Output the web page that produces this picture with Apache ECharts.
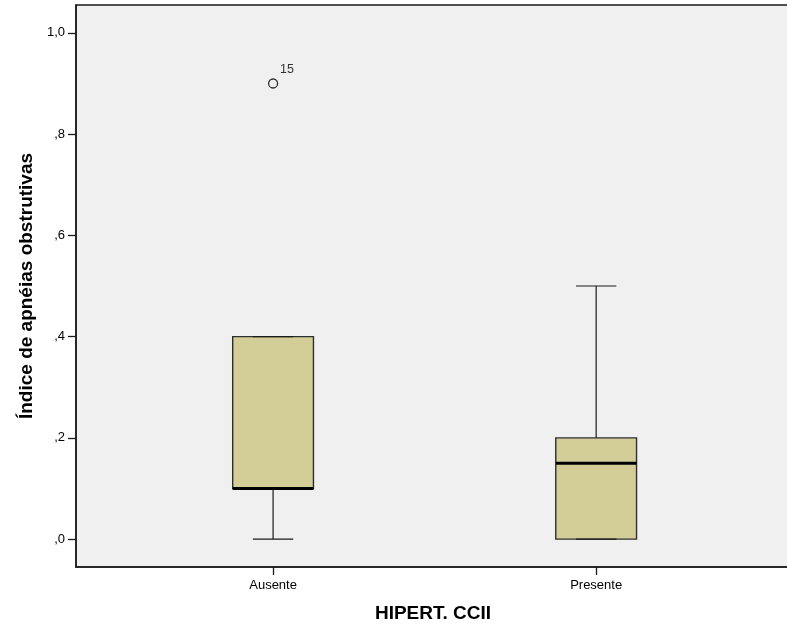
<!DOCTYPE html>
<html>
<head>
<meta charset="utf-8">
<script src="https://cdn.jsdelivr.net/npm/echarts@6/dist/echarts.min.js"></script>
<style>
  html, body { margin: 0; padding: 0; background: #ffffff; }
  #chart { width: 787px; height: 630px; }
</style>
</head>
<body>
<div id="chart"></div>
<script>
// Box-plot summary per group
const categories = ['Ausente', 'Presente'];
const whiskerLow = [0.0, 0.0];
const quartile1 = [0.1, 0.0];
const medians = [0.1, 0.15];
const quartile3 = [0.4, 0.2];
const whiskerHigh = [0.4, 0.5];

// Outliers: group index, value and case number
const outlierGroup = [0];
const outlierValue = [0.9];
const outlierCase = ['15'];

// Value-axis ticks and their labels (decimal comma)
const yTicks = [0, 0.2, 0.4, 0.6, 0.8, 1.0];
const yTickLabels = [',0', ',2', ',4', ',6', ',8', '1,0'];

// Groups sit at positions 1, 2, ... along a numeric x axis
const groupPos = categories.map((c, i) => i + 1);
const boxData = categories.map((c, i) => [groupPos[i], whiskerLow[i], quartile1[i], medians[i], quartile3[i], whiskerHigh[i]]);
const outlierData = outlierGroup.map((g, k) => ({ value: [groupPos[g], outlierValue[k]], name: outlierCase[k] }));

const FONT = '"Liberation Sans", Arial, sans-serif';
const INK = '#1a1a1a';

function renderBox(params, api) {
  const x = api.value(0);
  const lo = api.coord([x, api.value(1)]);
  const q1 = api.coord([x, api.value(2)]);
  const md = api.coord([x, api.value(3)]);
  const q3 = api.coord([x, api.value(4)]);
  const hi = api.coord([x, api.value(5)]);
  const unit = api.size([1, 0])[0];
  const bw = unit * 0.25;       // box width
  const cw = bw / 2;            // whisker cap width
  const cx = q1[0];
  const wStyle = { stroke: INK, lineWidth: 1.2 };
  const line = (x1, y1, x2, y2, style) => ({ type: 'line', shape: { x1, y1, x2, y2 }, style });
  return {
    type: 'group',
    children: [
      line(cx, hi[1], cx, q3[1], wStyle),
      line(cx, q1[1], cx, lo[1], wStyle),
      {
        type: 'rect',
        shape: { x: cx - bw / 2, y: q3[1], width: bw, height: q1[1] - q3[1] },
        style: { fill: '#d3ce97', stroke: '#2e2e2e', lineWidth: 1.4 }
      },
      line(cx - cw / 2, hi[1], cx + cw / 2, hi[1], wStyle),
      line(cx - cw / 2, lo[1], cx + cw / 2, lo[1], wStyle),
      line(cx - bw / 2, md[1], cx + bw / 2, md[1], { stroke: '#000', lineWidth: 3 })
    ]
  };
}

const chart = echarts.init(document.getElementById('chart'), null, { renderer: 'canvas' });
chart.setOption({
  animation: false,
  backgroundColor: '#ffffff',
  grid: {
    left: 76, top: 5, width: 714, height: 562,
    outerBoundsMode: 'none',
    containLabel: false,
    show: true, backgroundColor: '#f0f0f0',
    borderColor: INK, borderWidth: 1.5
  },
  xAxis: {
    type: 'value',
    min: 0.39, max: 2.6,
    name: 'HIPERT. CCII',
    nameLocation: 'middle',
    nameGap: 37,
    nameTextStyle: { fontFamily: FONT, fontSize: 19, fontWeight: 'bold', color: '#000' },
    axisLine: { show: true, onZero: false, lineStyle: { color: INK, width: 1.5 } },
    axisTick: { show: true, customValues: groupPos, length: 8, lineStyle: { color: INK, width: 1.3 } },
    axisLabel: {
      customValues: groupPos,
      formatter: v => categories[Math.round(v) - 1] || '',
      fontFamily: FONT, fontSize: 13, color: '#000', margin: 12
    },
    splitLine: { show: false }
  },
  yAxis: {
    type: 'value',
    min: -0.055, max: 1.055,
    name: 'Índice de apnéias obstrutivas',
    nameLocation: 'middle',
    nameGap: 40,
    nameTextStyle: { fontFamily: FONT, fontSize: 19, fontWeight: 'bold', color: '#000' },
    axisLine: { show: true, onZero: false, lineStyle: { color: INK, width: 1.5 } },
    axisTick: { show: true, customValues: yTicks, length: 8, lineStyle: { color: INK, width: 1.3 } },
    axisLabel: {
      customValues: yTicks,
      formatter: v => {
        const k = yTicks.findIndex(t => Math.abs(t - v) < 1e-9);
        return k >= 0 ? yTickLabels[k] : '';
      },
      fontFamily: FONT, fontSize: 13, color: '#000', margin: 11
    },
    splitLine: { show: false }
  },
  series: [
    {
      type: 'custom',
      silent: true,
      renderItem: renderBox,
      encode: { x: 0, y: [1, 2, 3, 4, 5] },
      data: boxData,
      clip: false
    },
    {
      type: 'scatter',
      silent: true,
      symbol: 'circle',
      symbolSize: 9,
      itemStyle: { color: 'rgba(0,0,0,0)', borderColor: '#000', borderWidth: 1.3 },
      label: {
        show: true,
        formatter: p => p.name,
        position: [12, -9],
        align: 'left',
        verticalAlign: 'middle',
        fontFamily: FONT, fontSize: 12.5, color: '#000'
      },
      data: outlierData
    }
  ]
});
</script>
</body>
</html>
